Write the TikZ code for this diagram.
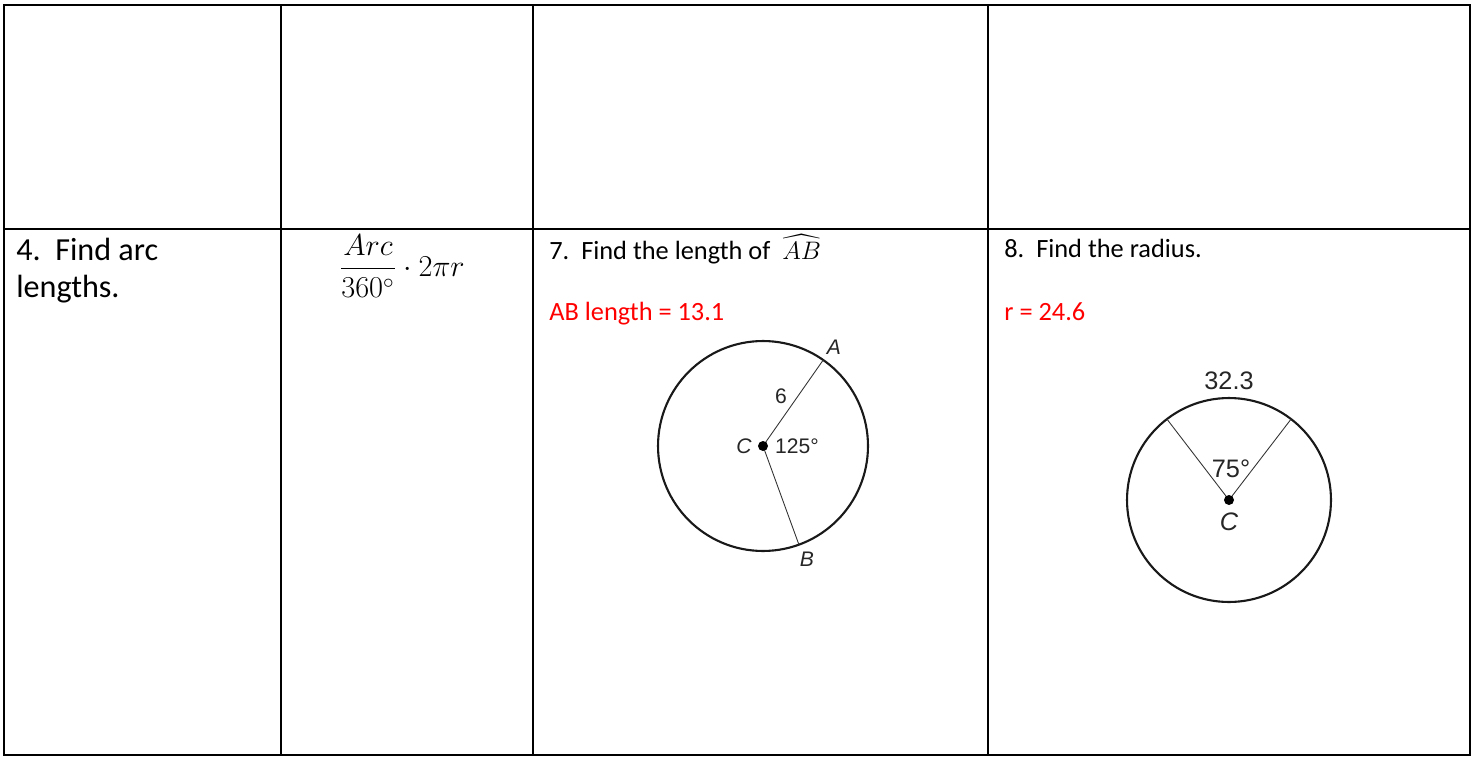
\documentclass[tikz,border=0pt]{standalone}
\usepackage{amsmath}
\usepackage{fontspec}
\setmainfont{Carlito}
\newfontfamily\figfont{Liberation Sans}
\usetikzlibrary{positioning, calc}

\begin{document}
\begin{tikzpicture}[x=0.02cm, y=-0.02cm,
  cellrule/.style={line width=1.4pt, black},
  rim/.style={line width=1.2pt, black!90},
  spoke/.style={line width=0.5pt, black!80},
  figlabel/.style={font=\figfont\fontsize{12}{14}\selectfont, inner sep=0pt, text=black!85},
  figitalic/.style={font=\figfont\itshape\fontsize{12}{14}\selectfont, inner sep=0pt, text=black!85},
  biglabel/.style={font=\figfont\fontsize{14.4}{16}\selectfont, inner sep=0pt, text=black!85},
  bigitalic/.style={font=\figfont\itshape\fontsize{14.4}{16}\selectfont, inner sep=0pt, text=black!85},
  prompt/.style={font=\fontsize{15}{17}\selectfont, anchor=west, inner sep=0pt},
  answer/.style={prompt, text=red}]
  \useasboundingbox (0,0) rectangle (1474,757);
  % table grid: 2 rows, 4 columns
  \draw[cellrule] (4,5) rectangle (1470,755);
  \foreach \x in {281,533,988}
    \draw[cellrule] (\x,5) -- (\x,755);
  \draw[cellrule] (4,229) -- (1470,229);
  % row 2, columns 1 and 2
  \node[anchor=north west, align=left, inner sep=0pt,
        font=\fontsize{18.3}{21}\selectfont] (topic) at (16,238) {4.\ \ Find arc\\lengths.};
  \node[inner sep=0pt, font=\fontsize{18}{21}\selectfont] (rule) at (402,266)
    {$\dfrac{Arc}{360^\circ}\cdot 2\pi r$};
  % row 2, column 3
  \node[prompt] (q7) at (549,249) {7.\ \ Find the length of\ \ $\widehat{AB}$};
  \node[answer] (a7) at (549,314) {AB length = 13.1};
  \coordinate (C1) at (763,446);
  \coordinate (A1) at ($(C1)+(55:2.1cm)$);
  \coordinate (B1) at ($(C1)+(-70:2.1cm)$);
  \draw[rim] (C1) circle (2.1cm);
  \draw[spoke] (C1) -- (A1);
  \draw[spoke] (C1) -- (B1);
  \fill[black] (C1) circle (0.1cm);
  \node[figitalic] (lA) at (834,347) {A};
  \node[figitalic] (lB) at (807,559) {B};
  \node[figitalic] (lC1) at (744,446) {C};
  \node[figlabel] (l6) at (781,396) {6};
  \node[figlabel] (l125) at (797,446) {125°};
  % row 2, column 4
  \node[prompt] (q8) at (1004,248) {8.\ \ Find the radius.};
  \node[answer] (a8) at (1004,312) {r = 24.6};
  \coordinate (C2) at (1229,500);
  \coordinate (P2) at ($(C2)+(127.5:2.04cm)$);
  \coordinate (Q2) at ($(C2)+(52.5:2.04cm)$);
  \draw[rim] (C2) circle (2.04cm);
  \draw[spoke] (C2) -- (P2);
  \draw[spoke] (C2) -- (Q2);
  \fill[black] (C2) circle (0.1cm);
  \node[biglabel] (l323) at (1229,381) {32.3};
  \node[biglabel] (l75) at (1231,469) {75°};
  \node[bigitalic] (lC2) at (1229,522) {C};
\end{tikzpicture}
\end{document}
